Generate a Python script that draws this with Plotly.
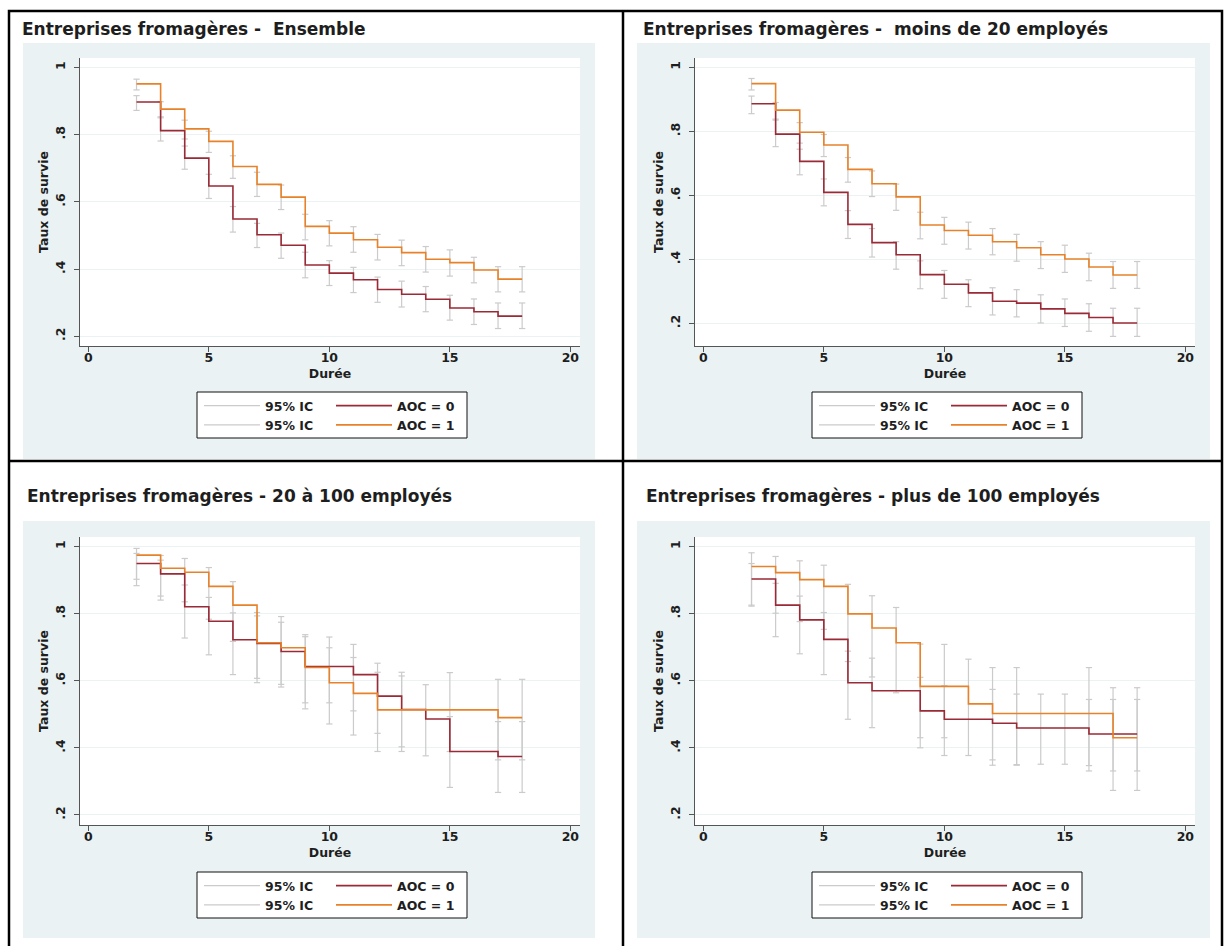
import plotly.graph_objects as go

W, H = 1224, 946

# ---------------- data ----------------
durees = [2, 3, 4, 5, 6, 7, 8, 9, 10, 11, 12, 13, 14, 15, 16, 17, 18]

titres = [
    "Entreprises fromagères -  Ensemble",
    "Entreprises fromagères -  moins de 20 employés",
    "Entreprises fromagères - 20 à 100 employés",
    "Entreprises fromagères - plus de 100 employés",
]

# Panel 1 : Ensemble
ens_aoc0 = [0.897, 0.812, 0.730, 0.647, 0.549, 0.502, 0.471, 0.412, 0.388, 0.368, 0.339, 0.325, 0.310, 0.284, 0.273, 0.260, 0.260]
ens_aoc1 = [0.951, 0.876, 0.817, 0.780, 0.705, 0.652, 0.614, 0.527, 0.507, 0.487, 0.465, 0.449, 0.429, 0.419, 0.397, 0.370, 0.370]
ens_aoc0_lo = [0.872, 0.781, 0.697, 0.610, 0.510, 0.464, 0.432, 0.374, 0.351, 0.330, 0.301, 0.287, 0.273, 0.248, 0.235, 0.223, 0.223]
ens_aoc0_hi = [0.916, 0.850, 0.766, 0.682, 0.586, 0.536, 0.507, 0.450, 0.425, 0.405, 0.376, 0.364, 0.348, 0.322, 0.311, 0.299, 0.299]
ens_aoc1_lo = [0.933, 0.853, 0.787, 0.747, 0.670, 0.616, 0.577, 0.487, 0.469, 0.450, 0.427, 0.410, 0.391, 0.379, 0.359, 0.332, 0.332]
ens_aoc1_hi = [0.965, 0.898, 0.843, 0.810, 0.737, 0.688, 0.650, 0.563, 0.544, 0.526, 0.503, 0.486, 0.467, 0.457, 0.435, 0.407, 0.407]

# Panel 2 : moins de 20 employés
p20_aoc0 = [0.886, 0.791, 0.706, 0.609, 0.509, 0.452, 0.414, 0.352, 0.322, 0.295, 0.269, 0.263, 0.245, 0.231, 0.218, 0.201, 0.201]
p20_aoc1 = [0.949, 0.866, 0.797, 0.757, 0.681, 0.636, 0.595, 0.507, 0.490, 0.475, 0.455, 0.436, 0.414, 0.401, 0.376, 0.351, 0.351]
p20_aoc0_lo = [0.855, 0.752, 0.664, 0.567, 0.465, 0.407, 0.369, 0.308, 0.278, 0.252, 0.226, 0.220, 0.201, 0.190, 0.175, 0.159, 0.159]
p20_aoc0_hi = [0.910, 0.835, 0.744, 0.651, 0.552, 0.496, 0.455, 0.395, 0.365, 0.336, 0.311, 0.305, 0.289, 0.276, 0.261, 0.247, 0.247]
p20_aoc1_lo = [0.929, 0.838, 0.763, 0.721, 0.641, 0.596, 0.553, 0.464, 0.447, 0.432, 0.414, 0.394, 0.371, 0.359, 0.333, 0.309, 0.309]
p20_aoc1_hi = [0.965, 0.890, 0.827, 0.790, 0.718, 0.676, 0.635, 0.547, 0.531, 0.516, 0.496, 0.478, 0.455, 0.444, 0.419, 0.393, 0.393]

# Panel 3 : 20 à 100 employés
m100_aoc0 = [0.949, 0.918, 0.820, 0.777, 0.722, 0.711, 0.687, 0.642, 0.642, 0.618, 0.554, 0.514, 0.486, 0.389, 0.389, 0.374, 0.374]
m100_aoc1 = [0.974, 0.935, 0.923, 0.881, 0.825, 0.713, 0.698, 0.639, 0.594, 0.562, 0.513, 0.513, 0.513, 0.513, 0.513, 0.490, 0.490]
m100_aoc0_lo = [0.883, 0.840, 0.727, 0.677, 0.618, 0.594, 0.581, 0.516, 0.534, 0.510, 0.443, 0.403, 0.376, 0.282, None, 0.267, 0.267]
m100_aoc0_hi = [0.979, 0.959, 0.885, 0.848, 0.802, 0.793, 0.774, 0.731, 0.730, 0.708, 0.652, 0.614, 0.588, 0.493, None, 0.478, 0.478]
m100_aoc1_lo = [0.902, 0.852, 0.835, 0.783, 0.717, 0.607, 0.589, 0.534, 0.471, 0.438, 0.389, 0.389, None, 0.389, None, 0.364, 0.364]
m100_aoc1_hi = [0.994, 0.973, 0.964, 0.937, 0.895, 0.803, 0.791, 0.737, 0.698, 0.669, 0.625, 0.625, None, 0.624, None, 0.604, 0.604]

# Panel 4 : plus de 100 employés
g100_aoc0 = [0.903, 0.825, 0.781, 0.723, 0.594, 0.570, 0.570, 0.510, 0.485, 0.485, 0.473, 0.459, 0.459, 0.459, 0.441, 0.441, 0.441]
g100_aoc1 = [0.940, 0.922, 0.901, 0.881, 0.799, 0.757, 0.713, 0.583, 0.583, 0.531, 0.502, 0.502, 0.502, 0.502, 0.502, 0.430, 0.430]
g100_aoc0_lo = [0.822, 0.731, 0.680, 0.618, 0.485, 0.460, None, 0.400, 0.377, None, 0.348, 0.348, 0.351, 0.351, 0.331, 0.331, 0.331]
g100_aoc0_hi = [0.949, 0.890, 0.852, 0.803, 0.688, 0.667, None, 0.610, 0.585, None, 0.574, 0.560, 0.560, 0.560, 0.544, 0.544, 0.544]
g100_aoc1_lo = [0.825, 0.801, 0.776, 0.753, 0.657, 0.611, 0.564, 0.430, 0.430, 0.377, 0.364, 0.350, None, None, 0.347, 0.273, 0.273]
g100_aoc1_hi = [0.981, 0.970, 0.957, 0.944, 0.887, 0.853, 0.818, 0.709, 0.708, 0.664, 0.639, 0.639, None, None, 0.639, 0.579, 0.579]

x_tickvals = [0, 5, 10, 15, 20]
x_ticktext = ["0", "5", "10", "15", "20"]
y_tickvals = [0.2, 0.4, 0.6, 0.8, 1.0]
y_ticktext = [".2", ".4", ".6", ".8", "1"]

# y ranges (Stata auto ranges)
y_ranges = [[0.171, 1.028], [0.129, 1.029], [0.170, 1.028], [0.170, 1.028]]
x_range = [-0.345, 20.4]

# ---------------- style ----------------
FONT = "DejaVu Sans, Verdana, sans-serif"
C0 = "#9a2a36"      # AOC = 0
C1 = "#e8822a"      # AOC = 1
CI = "#cbcbcb"
BLUE = "#eaf2f3"
TXT = "#1e1e1e"
AX = "#555555"
FS = 12.5

panels = [
    (ens_aoc0, ens_aoc1, ens_aoc0_lo, ens_aoc0_hi, ens_aoc1_lo, ens_aoc1_hi),
    (p20_aoc0, p20_aoc1, p20_aoc0_lo, p20_aoc0_hi, p20_aoc1_lo, p20_aoc1_hi),
    (m100_aoc0, m100_aoc1, m100_aoc0_lo, m100_aoc0_hi, m100_aoc1_lo, m100_aoc1_hi),
    (g100_aoc0, g100_aoc1, g100_aoc0_lo, g100_aoc0_hi, g100_aoc1_lo, g100_aoc1_hi),
]

# pixel layout of each panel: plot area (x0, x1, y0, y1), blue region, title pos, legend box
plot_px = [(80, 580, 58, 346), (695, 1195, 58, 346), (80, 580, 537, 825), (695, 1195, 537, 825)]
blue_px = [(23, 595, 43, 459), (637, 1210, 43, 459), (23, 595, 521, 938), (637, 1210, 521, 938)]
title_px = [(20, 29), (641, 29), (25, 496), (644, 496)]
legend_px = [(197, 467, 392, 438), (812, 1082, 392, 438), (197, 467, 872, 918), (812, 1082, 872, 918)]


def fx(px):
    return px / W


def fy(py):
    return 1 - py / H


def ci_path(t, lo, hi, cap=0.13):
    xs, ys = [], []
    for ti, l, h in zip(t, lo, hi):
        if l is None or h is None:
            continue
        xs += [ti, ti, None, ti - cap, ti + cap, None, ti - cap, ti + cap, None]
        ys += [l, h, None, l, l, None, h, h, None]
    return xs, ys


fig = go.Figure()
shapes = []
annotations = []
layout_axes = {}
bold = dict(family=FONT, size=FS, color=TXT, weight="bold")

for i, (s0, s1, lo0, hi0, lo1, hi1) in enumerate(panels):
    n = i + 1
    xa = "x" if n == 1 else f"x{n}"
    ya = "y" if n == 1 else f"y{n}"
    legA = "legend" if i == 0 else f"legend{2 * i + 1}"
    legB = f"legend{2 * i + 2}"

    for lo, hi in ((lo0, hi0), (lo1, hi1)):
        xs, ys = ci_path(durees, lo, hi)
        fig.add_trace(go.Scatter(
            x=xs, y=ys, mode="lines", name="95% IC",
            line=dict(color=CI, width=1.2), xaxis=xa, yaxis=ya,
            legend=legA, hoverinfo="skip"))
    fig.add_trace(go.Scatter(
        x=durees, y=s0, mode="lines", name="AOC = 0", line_shape="hv",
        line=dict(color=C0, width=1.6), xaxis=xa, yaxis=ya, legend=legB))
    fig.add_trace(go.Scatter(
        x=durees, y=s1, mode="lines", name="AOC = 1", line_shape="hv",
        line=dict(color=C1, width=1.6), xaxis=xa, yaxis=ya, legend=legB))

    x0, x1, y0, y1 = plot_px[i]
    xkey = "xaxis" if n == 1 else f"xaxis{n}"
    ykey = "yaxis" if n == 1 else f"yaxis{n}"
    layout_axes[xkey] = dict(
        domain=[fx(x0), fx(x1)], range=x_range, anchor=ya,
        tickvals=x_tickvals, ticktext=x_ticktext, ticks="outside", ticklen=5,
        tickcolor=AX, showline=True, linecolor=AX, linewidth=1, showgrid=False,
        zeroline=False, tickfont=bold, ticklabelstandoff=-5,
        title=dict(text="Durée", standoff=5, font=bold),
    )
    layout_axes[ykey] = dict(
        domain=[fy(y1), fy(y0)], range=y_ranges[i], anchor=xa,
        tickvals=y_tickvals, ticktext=y_ticktext, ticks="outside", ticklen=5,
        tickcolor=AX, showline=True, linecolor=AX, linewidth=1, showgrid=True,
        gridcolor=BLUE, gridwidth=1, zeroline=False, tickangle=-90,
        tickfont=bold, ticklabelstandoff=4,
        title=dict(text="Taux de survie", standoff=1, font=bold),
    )

    bx0, bx1, by0, by1 = blue_px[i]
    shapes.append(dict(type="rect", xref="paper", yref="paper", layer="below",
                       x0=fx(bx0), x1=fx(bx1), y0=fy(by1), y1=fy(by0),
                       fillcolor=BLUE, line=dict(width=0)))
    shapes.append(dict(type="rect", xref="paper", yref="paper", layer="below",
                       x0=fx(x0), x1=fx(x1), y0=fy(y1), y1=fy(y0),
                       fillcolor="white", line=dict(width=0)))
    lx0, lx1, ly0, ly1 = legend_px[i]
    shapes.append(dict(type="rect", xref="paper", yref="paper", layer="below",
                       x0=fx(lx0), x1=fx(lx1), y0=fy(ly1), y1=fy(ly0),
                       fillcolor="white", line=dict(color="#111111", width=1)))

    tx, ty = title_px[i]
    annotations.append(dict(text=titres[i], x=fx(tx), y=fy(ty), xref="paper", yref="paper",
                            xanchor="left", yanchor="middle", showarrow=False,
                            font=dict(family=FONT, size=17, color=TXT, weight="bold")))

    leg_common = dict(bgcolor="rgba(0,0,0,0)", borderwidth=0, tracegroupgap=0,
                      orientation="v", xanchor="left", yanchor="top", itemwidth=56,
                      font=bold)
    layout_axes[legA] = dict(x=fx(lx0 + 2), y=fy(ly0 - 1), **leg_common)
    layout_axes[legB] = dict(x=fx(lx0 + 134), y=fy(ly0 - 1), **leg_common)

# outer frame and dividers
shapes.append(dict(type="rect", xref="paper", yref="paper", x0=fx(9), x1=fx(1222), y0=fy(960), y1=fy(11),
                   line=dict(color="black", width=2.5), fillcolor="rgba(0,0,0,0)"))
shapes.append(dict(type="line", xref="paper", yref="paper", x0=fx(623), x1=fx(623), y0=fy(960), y1=fy(11),
                   line=dict(color="black", width=2.5)))
shapes.append(dict(type="line", xref="paper", yref="paper", x0=fx(9), x1=fx(1222), y0=fy(461), y1=fy(461),
                   line=dict(color="black", width=2.5)))

fig.update_layout(
    width=W, height=H, margin=dict(l=0, r=0, t=0, b=0),
    paper_bgcolor="white", plot_bgcolor="rgba(0,0,0,0)",
    shapes=shapes, annotations=annotations, showlegend=True,
    font=dict(family=FONT, color=TXT),
    **layout_axes,
)

fig.write_html("out.html", config={"displayModeBar": False},
               post_script="document.body.style.margin='0';document.body.style.overflow='hidden';")
